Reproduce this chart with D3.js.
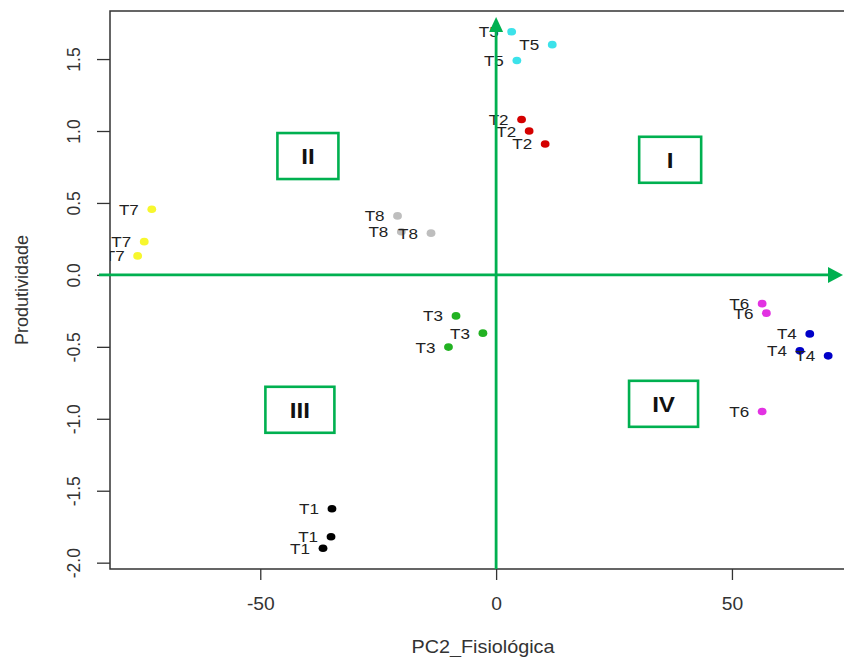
<!DOCTYPE html>
<html>
<head>
<meta charset="utf-8">
<script src="https://cdn.jsdelivr.net/npm/d3@7"></script>
<style>
  body { margin: 0; background: #fff; }
  svg { display: block; font-family: "Liberation Sans", Arial, sans-serif; }
</style>
</head>
<body>
<svg id="chart" width="844" height="657"></svg>
<script>
// ---- data ----
const pointLabels = ["T1","T1","T1","T2","T2","T2","T3","T3","T3","T4","T4","T4",
                     "T5","T5","T5","T6","T6","T6","T7","T7","T7","T8","T8","T8"];
const pc2Values = [-34.8, -35.0, -36.7,   5.4, 7.0, 10.4,   -8.5, -2.8, -10.1,
                   66.5, 64.4, 70.4,   3.3, 11.9, 4.4,   56.4, 57.3, 56.4,
                   -73.0, -74.6, -76.0,   -20.9, -13.8, -20.1];
const prodValues = [-1.625, -1.82, -1.90,   1.08, 1.00, 0.91,   -0.285, -0.405, -0.502,
                    -0.41, -0.528, -0.5625,   1.69, 1.60, 1.49,   -0.20, -0.266, -0.949,
                    0.456, 0.231, 0.132,   0.41, 0.29, 0.30];
const treatments = ["T1","T2","T3","T4","T5","T6","T7","T8"];
const treatmentColors = ["#000000","#D40000","#22B222","#0000C8","#3CE2EA","#E232E2","#F7F72E","#BEBEBE"];
const xTickValues = [-50, 0, 50];
const xTickLabels = ["-50", "0", "50"];
const yTickValues = [-2, -1.5, -1, -0.5, 0, 0.5, 1, 1.5];
const yTickLabels = ["-2.0", "-1.5", "-1.0", "-0.5", "0.0", "0.5", "1.0", "1.5"];
const quadrantNames = ["I", "II", "III", "IV"];
const quadrantX = [36.9, -39.9, -41.6, 35.5];
const quadrantY = [0.80, 0.826, -0.9375, -0.896];
const xTitle = "PC2_Fisiológica";
const yTitle = "Produtividade";

// ---- layout ----
const plotLeft = 110, plotRight = 856, plotTop = 11, plotBottom = 569;
const green = "#00B050";
const stretch = 1.1;
const quadBoxW = [62, 61, 69, 69];

const x = d3.scaleLinear().domain([-81.86, 76.3]).range([plotLeft, plotRight]);
const y = d3.scaleLinear().domain([-2.044, 1.834]).range([plotBottom, plotTop]);
const color = d3.scaleOrdinal().domain(treatments).range(treatmentColors);

const svg = d3.select("#chart");

svg.append("defs").append("clipPath").attr("id", "plotclip")
  .append("rect").attr("x", plotLeft).attr("y", plotTop)
  .attr("width", plotRight - plotLeft).attr("height", plotBottom - plotTop);

// axes
const yAxis = svg.append("g").attr("transform", `translate(${plotLeft},0)`)
  .call(d3.axisLeft(y).tickValues(yTickValues).tickSize(13).tickSizeOuter(0)
        .tickFormat((d, i) => yTickLabels[i]));
yAxis.select(".domain").remove();
yAxis.selectAll(".tick line").attr("stroke", "#333").attr("stroke-width", 1.3);
yAxis.selectAll(".tick text")
  .attr("transform", "rotate(-90)")
  .attr("x", 0).attr("y", -30).attr("dy", "0")
  .attr("text-anchor", "middle")
  .attr("font-size", 17.5).attr("fill", "#333")
  .style("font-family", "Liberation Sans, Arial, sans-serif");

const xAxis = svg.append("g").attr("transform", `translate(0,${plotBottom})`)
  .call(d3.axisBottom(x).tickValues(xTickValues).tickSize(11).tickSizeOuter(0)
        .tickFormat((d, i) => xTickLabels[i]));
xAxis.select(".domain").remove();
xAxis.selectAll(".tick line").attr("stroke", "#333").attr("stroke-width", 1.3);
xAxis.selectAll(".tick text")
  .attr("y", 41).attr("dy", "0")
  .attr("transform", `scale(${stretch},1)`)
  .attr("font-size", 17.5).attr("fill", "#333")
  .style("font-family", "Liberation Sans, Arial, sans-serif");

// plot box (right edge falls outside the picture)
svg.append("path")
  .attr("d", `M${plotRight},${plotTop}H${plotLeft}V${plotBottom}H${plotRight}`)
  .attr("fill", "none").attr("stroke", "#333").attr("stroke-width", 1.5);

// titles
svg.append("text")
  .attr("transform", `translate(${(plotLeft + plotRight) / 2},653) scale(${stretch},1)`)
  .attr("text-anchor", "middle").attr("font-size", 18).attr("fill", "#333")
  .text(xTitle);
svg.append("text")
  .attr("transform", `translate(28,${(plotTop + plotBottom) / 2}) rotate(-90)`)
  .attr("text-anchor", "middle").attr("font-size", 18).attr("fill", "#333")
  .text(yTitle);

// points and labels
const data = pointLabels.map((t, i) => ({ t, x: pc2Values[i], y: prodValues[i] }));
const plot = svg.append("g").attr("clip-path", "url(#plotclip)");
plot.selectAll("ellipse").data(data).enter().append("ellipse")
  .attr("cx", d => x(d.x)).attr("cy", d => y(d.y))
  .attr("rx", 4.4).attr("ry", 3.8)
  .attr("fill", d => color(d.t));
plot.selectAll("text.lab").data(data).enter().append("text")
  .attr("class", "lab")
  .attr("transform", d => `translate(${x(d.x) - 13},${y(d.y) + 5.5}) scale(${stretch},1)`)
  .attr("text-anchor", "end").attr("font-size", 15.5).attr("fill", "#222")
  .text(d => d.t);

// quadrant boxes
const quads = quadrantNames.map((n, i) => ({ n, x: quadrantX[i], y: quadrantY[i], w: quadBoxW[i] }));
const qg = svg.append("g").selectAll("g").data(quads).enter().append("g")
  .attr("transform", d => `translate(${x(d.x)},${y(d.y)})`);
qg.append("rect").attr("x", d => -d.w / 2).attr("y", -23).attr("width", d => d.w).attr("height", 46)
  .attr("fill", "white").attr("stroke", green).attr("stroke-width", 2.6);
qg.append("text").attr("transform", `scale(${stretch},1)`)
  .attr("y", 8).attr("text-anchor", "middle")
  .attr("font-size", 22).attr("font-weight", "bold").attr("fill", "#111")
  .text(d => d.n);

// green axis arrows
const hx0 = x.invert(99), hx1 = x.invert(828), hxTip = x.invert(843);
const vy0 = y.invert(plotBottom), vy1 = y.invert(32), vyTip = y.invert(17);
svg.append("line").attr("x1", x(hx0)).attr("x2", x(hx1)).attr("y1", y(0)).attr("y2", y(0))
  .attr("stroke", green).attr("stroke-width", 2.8);
svg.append("path")
  .attr("d", `M${x(hxTip)},${y(0)}L${x(hx1)},${y(0) - 8}L${x(hx1)},${y(0) + 8}Z`)
  .attr("fill", green);
svg.append("line").attr("x1", x(0)).attr("x2", x(0)).attr("y1", y(vy0)).attr("y2", y(vy1))
  .attr("stroke", green).attr("stroke-width", 2.8);
svg.append("path")
  .attr("d", `M${x(0)},${y(vyTip)}L${x(0) - 7},${y(vy1)}L${x(0) + 7},${y(vy1)}Z`)
  .attr("fill", green);
</script>
</body>
</html>
